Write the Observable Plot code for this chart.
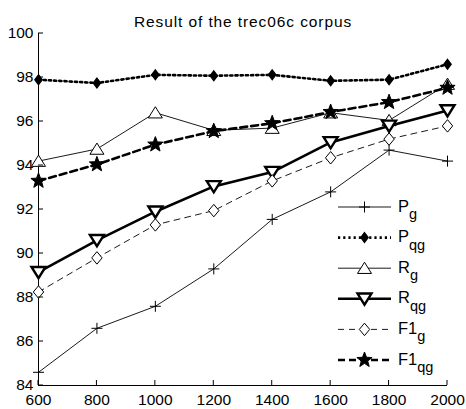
<!DOCTYPE html>
<html><head><meta charset="utf-8">
<script src="https://cdn.jsdelivr.net/npm/d3@7"></script>
<script src="https://cdn.jsdelivr.net/npm/@observablehq/plot@0.6"></script>
<style>
body{margin:0;background:#fff;}
#wrap{position:relative;width:466px;height:409px;}
#wrap svg{font-family:Arial,"Liberation Sans",Helvetica,sans-serif;}
#legend{position:absolute;left:0;top:0;}
</style>
</head><body><div id="wrap"></div>
<script>
// ---- data ----
const trainSizes = [600, 800, 1000, 1200, 1400, 1600, 1800, 2000];
const Pg   = [84.6, 86.6, 87.6, 89.3, 91.55, 92.8, 94.7, 94.2];
const Pqg  = [97.9, 97.75, 98.12, 98.08, 98.12, 97.85, 97.9, 98.6];
const Rg   = [94.2, 94.75, 96.4, 95.6, 95.7, 96.4, 96.05, 97.7];
const Rqg  = [89.15, 90.6, 91.9, 93.05, 93.7, 95.05, 95.8, 96.5];
const F1g  = [88.25, 89.8, 91.3, 91.95, 93.3, 94.35, 95.2, 95.8];
const F1qg = [93.3, 94.05, 94.95, 95.56, 95.92, 96.43, 96.88, 97.53];
const seriesNames = ["Pg", "Pqg", "Rg", "Rqg", "F1g", "F1qg"];
const seriesBase = ["P", "P", "R", "R", "F1", "F1"];
const seriesSub = ["g", "qg", "g", "qg", "g", "qg"];
const xTicks = [600, 800, 1000, 1200, 1400, 1600, 1800, 2000];
const yTicks = [84, 86, 88, 90, 92, 94, 96, 98, 100];
const titleText = "Result of the trec06c corpus";

// ---- custom marker symbols ----
const symPlus = {draw(c, s){const r = Math.sqrt(s/Math.PI); c.moveTo(-r,0); c.lineTo(r,0); c.moveTo(0,-r); c.lineTo(0,r);}};
const symTriUp = {draw(c, s){const r = Math.sqrt(s/Math.PI); c.moveTo(0,-r*0.85); c.lineTo(r,r*0.75); c.lineTo(-r,r*0.75); c.closePath();}};
const symTriDown = {draw(c, s){const r = Math.sqrt(s/Math.PI); c.moveTo(-r,-r*0.75); c.lineTo(r,-r*0.75); c.lineTo(0,r*0.85); c.closePath();}};
const symDiamond = {draw(c, s){const r = Math.sqrt(s/Math.PI); c.moveTo(0,-r*1.2); c.lineTo(r,0); c.lineTo(0,r*1.2); c.lineTo(-r,0); c.closePath();}};
const symPDiamond = {draw(c, s){const r = Math.sqrt(s/Math.PI); c.moveTo(0,-r); c.lineTo(r*0.75,0); c.lineTo(0,r); c.lineTo(-r*0.75,0); c.closePath();}};
const symStar = {draw(c, s){const r = Math.sqrt(s/Math.PI); const ri = r*0.42;
  for (let i=0;i<10;i++){const a = -Math.PI/2 + i*Math.PI/5; const rr = i%2?ri:r; const x = rr*Math.cos(a), y = rr*Math.sin(a); i?c.lineTo(x,y):c.moveTo(x,y);} c.closePath();}};

const styles = {
  Pg:   {line:{stroke:"#000", strokeWidth:0.9}, dot:{symbol:symPlus, r:5.5, stroke:"#000", fill:"none", strokeWidth:1}},
  Pqg:  {line:{stroke:"#000", strokeWidth:2.6, strokeDasharray:"2.2,3"}, dot:{symbol:symPDiamond, r:5, fill:"#000", stroke:"#000", strokeWidth:1.2}},
  Rg:   {line:{stroke:"#000", strokeWidth:0.9}, dot:{symbol:symTriUp, r:7, fill:"#fff", stroke:"#000", strokeWidth:1}},
  Rqg:  {line:{stroke:"#000", strokeWidth:2.6}, dot:{symbol:symTriDown, r:7, fill:"#fff", stroke:"#000", strokeWidth:2.4}},
  F1g:  {line:{stroke:"#000", strokeWidth:0.9, strokeDasharray:"6,5"}, dot:{symbol:symDiamond, r:5.2, fill:"#fff", stroke:"#000", strokeWidth:1}},
  F1qg: {line:{stroke:"#000", strokeWidth:2.6, strokeDasharray:"7,4"}, dot:{symbol:symStar, r:8, fill:"#000", stroke:"#000", strokeWidth:1}}
};
const valuesBy = {Pg, Pqg, Rg, Rqg, F1g, F1qg};

const marks = [];
for (const name of seriesNames) {
  const data = trainSizes.map((x, i) => ({x, y: valuesBy[name][i]}));
  marks.push(Plot.line(data, {x: "x", y: "y", ...styles[name].line}));
  marks.push(Plot.dot(data, {x: "x", y: "y", ...styles[name].dot}));
}

const W = 466, H = 409;
const chart = Plot.plot({
  width: W, height: H,
  marginLeft: 38, marginRight: 19, marginTop: 33, marginBottom: 24,
  style: {fontFamily: "Arial, 'Liberation Sans', sans-serif", fontSize: "15px", color: "#000", background: "#fff", overflow: "visible"},
  x: {type: "linear", domain: [600, 2000], ticks: xTicks},
  y: {type: "linear", domain: [84, 100], ticks: yTicks},
  marks: [
    Plot.axisX({ticks: xTicks, tickSize: 0, tickPadding: 8, tickFormat: d => String(d), label: null}),
    Plot.axisY({ticks: yTicks, tickSize: 0, tickPadding: 5, tickFormat: d => String(d), label: null}),
    Plot.ruleY([84], {stroke: "#000", strokeWidth: 1}),
    Plot.ruleX([600], {stroke: "#000", strokeWidth: 1}),
    ...marks,
    Plot.text([titleText], {frameAnchor: "top", dy: -18, fontSize: 15.5, fill: "#000", text: d => d})
  ]
});
document.getElementById("wrap").appendChild(chart);

const xs = chart.scale("x"), ys = chart.scale("y");
const svg = d3.select(chart);
svg.selectAll("g[aria-label$='tick label']").attr("font-size", 15.5);
svg.selectAll("g[aria-label='text'] text").style("letter-spacing", "0.9px");
// inward ticks along axes using chart scales
const tg = svg.append("g").attr("stroke", "#000").attr("stroke-width", 1);
for (const t of xTicks) { const px = xs.apply(t); tg.append("line").attr("x1", px).attr("x2", px).attr("y1", ys.apply(84)).attr("y2", ys.apply(84) - 5); }
for (const t of yTicks) { const py = ys.apply(t); tg.append("line").attr("x1", xs.apply(600)).attr("x2", xs.apply(600) + 5).attr("y1", py).attr("y2", py); }

// ---- legend (overlay) ----
const lg = d3.select("#wrap").append("svg").attr("id", "legend").attr("width", W).attr("height", H)
  .style("font-family", "Arial, 'Liberation Sans', sans-serif").style("pointer-events", "none");
const lx0 = 338, lx1 = 391, ly0 = 207, lstep = 30.6;
seriesNames.forEach((name, i) => {
  const y = ly0 + i * lstep;
  const st = styles[name];
  lg.append("line").attr("x1", lx0).attr("x2", lx1).attr("y1", y).attr("y2", y)
    .attr("stroke", "#000").attr("stroke-width", st.line.strokeWidth).attr("stroke-dasharray", st.line.strokeDasharray || null);
  const r = st.dot.r;
  lg.append("path").attr("transform", `translate(${(lx0+lx1)/2},${y})`)
    .attr("d", d3.symbol(st.dot.symbol, Math.PI * r * r)())
    .attr("fill", st.dot.fill).attr("stroke", st.dot.stroke).attr("stroke-width", st.dot.strokeWidth);
  const t = lg.append("text").attr("x", 398).attr("y", y + 4.5).attr("font-size", 16.5).attr("fill", "#000");
  t.append("tspan").text(seriesBase[i]);
  t.append("tspan").attr("font-size", 14.5).attr("dy", 7.5).text(seriesSub[i]);
});
</script>
</body></html>
